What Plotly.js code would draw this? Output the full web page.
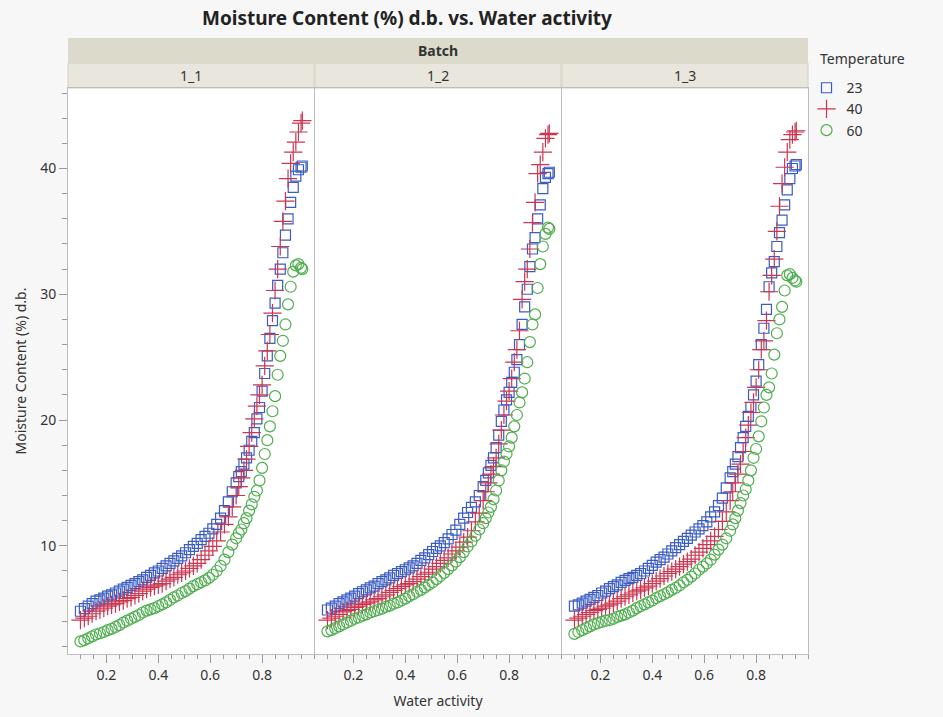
<!DOCTYPE html>
<html>
<head>
<meta charset="utf-8">
<script src="https://cdn.plot.ly/plotly-3.0.1.min.js"></script>
<style>html,body{margin:0;padding:0;background:#f7f7f7;}#chart{width:943px;height:717px;}</style>
</head>
<body>
<div id="chart"></div>
<script>
// Water activity grid (shared by all series)
const aw = [0.10,0.115,0.13,0.145,0.16,0.175,0.19,0.205,0.22,0.235,0.25,0.265,0.28,0.295,0.31,0.325,0.34,0.355,0.37,0.385,0.40,0.415,0.43,0.445,0.46,0.475,0.49,0.505,0.52,0.535,0.55,0.565,0.58,0.595,0.61,0.625,0.64,0.655,0.67,0.685,0.70,0.71,0.72,0.73,0.74,0.75,0.76,0.77,0.78,0.79,0.80,0.81,0.82,0.83,0.84,0.85,0.86,0.87,0.88,0.89,0.90,0.91,0.92,0.93,0.94,0.95,0.955];

const batches = ["1_1","1_2","1_3"];
const temps = ["23","40","60"];

// Batch 1_1
const mc_1_1_t23 = [4.8,5.0,5.2,5.4,5.6,5.7,5.85,6.0,6.1,6.25,6.4,6.55,6.7,6.85,7.0,7.15,7.3,7.5,7.65,7.85,8.0,8.2,8.4,8.6,8.8,9.0,9.2,9.45,9.7,9.95,10.2,10.5,10.75,11.0,11.35,11.7,12.2,12.8,13.5,14.3,15.0,15.5,15.9,16.5,17.0,17.6,18.3,19.0,20.1,21.0,22.3,23.7,25.1,26.5,27.9,29.3,30.7,32.0,33.3,34.7,36.0,37.3,38.5,39.4,39.9,40.1,40.2];
const mc_1_1_t40 = [4.1,4.25,4.4,4.6,4.8,4.9,5.05,5.2,5.3,5.4,5.55,5.65,5.8,5.9,6.05,6.2,6.4,6.55,6.7,6.8,6.9,7.0,7.2,7.35,7.5,7.7,7.85,8.0,8.2,8.4,8.6,8.9,9.25,9.6,9.95,10.4,11.1,11.7,12.3,13.1,14.0,14.7,15.4,16.0,16.9,17.9,19.0,20.1,21.1,22.0,22.8,24.3,25.5,26.8,28.5,30.3,32.0,33.8,35.8,37.4,39.2,40.4,41.3,42.1,42.9,43.6,43.8];
const mc_1_1_t60 = [2.4,2.5,2.65,2.8,2.95,3.05,3.15,3.3,3.4,3.55,3.7,3.9,4.05,4.2,4.35,4.5,4.7,4.85,4.95,5.05,5.2,5.35,5.5,5.7,5.9,6.05,6.25,6.4,6.6,6.8,6.95,7.1,7.25,7.45,7.7,8.0,8.4,8.9,9.5,10.1,10.6,11.0,11.3,11.8,12.2,12.8,13.3,13.9,14.4,15.2,16.2,17.3,18.4,19.5,20.7,21.9,23.6,25.1,26.3,27.6,29.2,30.6,31.8,32.3,32.4,32.1,32.0];

// Batch 1_2
const mc_1_2_t23 = [4.9,5.05,5.2,5.4,5.55,5.7,5.85,6.0,6.2,6.35,6.5,6.65,6.8,7.0,7.15,7.3,7.45,7.65,7.8,7.95,8.1,8.25,8.4,8.6,8.85,9.05,9.3,9.55,9.8,10.0,10.25,10.55,10.9,11.25,11.7,12.2,12.65,13.05,13.5,14.0,14.7,15.2,15.8,16.4,17.0,17.8,18.8,19.9,20.8,21.6,22.2,23.0,23.8,24.8,26.0,27.6,29.0,30.4,32.2,33.6,34.5,36.0,37.1,38.4,39.3,39.6,39.7];
const mc_1_2_t40 = [4.1,4.25,4.4,4.55,4.75,4.85,4.95,5.1,5.2,5.35,5.45,5.55,5.7,5.8,5.95,6.1,6.3,6.45,6.6,6.75,6.9,7.0,7.15,7.35,7.55,7.75,7.9,8.15,8.35,8.6,8.85,9.05,9.35,9.6,9.9,10.3,10.7,11.2,11.9,12.6,13.6,14.3,15.0,15.7,16.3,17.0,18.1,19.2,20.4,21.5,22.3,23.3,24.6,25.6,27.1,29.6,31.0,32.0,33.6,35.7,37.3,39.6,40.3,41.3,42.4,42.7,42.8];
const mc_1_2_t60 = [3.2,3.3,3.45,3.6,3.75,3.9,4.05,4.2,4.3,4.45,4.55,4.7,4.8,4.9,5.0,5.15,5.25,5.4,5.5,5.65,5.8,6.0,6.15,6.35,6.5,6.7,6.9,7.1,7.35,7.6,7.85,8.15,8.45,8.75,9.1,9.5,9.95,10.35,10.8,11.3,11.8,12.2,12.65,13.1,13.7,14.4,15.2,16.0,16.7,17.3,17.9,18.6,19.5,20.4,21.4,22.2,23.3,24.6,26.2,27.6,28.4,30.5,32.4,33.8,34.8,35.3,35.2];

// Batch 1_3
const mc_1_3_t23 = [5.2,5.3,5.45,5.6,5.75,5.9,6.05,6.25,6.4,6.6,6.75,6.9,7.1,7.25,7.4,7.5,7.65,7.8,8.0,8.2,8.45,8.7,8.9,9.1,9.35,9.6,9.85,10.1,10.35,10.6,10.85,11.1,11.35,11.6,11.9,12.3,12.7,13.2,13.8,14.6,15.4,15.9,16.5,17.1,17.8,18.6,19.5,20.3,21.0,22.0,23.1,24.4,26.0,27.3,28.8,30.6,31.7,32.6,33.8,34.9,35.9,37.1,38.3,39.2,40.0,40.2,40.3];
const mc_1_3_t40 = [4.1,4.25,4.4,4.55,4.7,4.85,4.95,5.05,5.2,5.3,5.45,5.6,5.8,5.95,6.1,6.25,6.4,6.5,6.65,6.8,7.0,7.2,7.4,7.6,7.8,7.95,8.15,8.35,8.55,8.75,8.95,9.25,9.5,9.8,10.1,10.4,10.75,11.3,11.95,12.7,13.6,14.3,15.0,15.7,16.5,17.5,18.6,19.6,20.6,21.4,22.6,24.0,25.6,26.3,27.9,30.2,31.5,32.8,35.0,37.0,38.8,40.1,41.3,42.3,42.7,42.9,43.0];
const mc_1_3_t60 = [3.0,3.15,3.3,3.45,3.6,3.75,3.85,3.95,4.05,4.1,4.2,4.35,4.45,4.55,4.7,4.85,5.05,5.2,5.35,5.5,5.65,5.85,6.0,6.15,6.3,6.5,6.65,6.85,7.1,7.3,7.55,7.8,8.1,8.35,8.6,8.9,9.3,9.7,10.1,10.6,11.2,11.7,12.2,12.8,13.4,14.0,14.5,15.2,16.0,17.0,17.7,18.7,19.9,21.0,22.0,22.6,23.7,25.2,26.9,28.0,29.0,30.3,31.5,31.6,31.3,31.1,31.0];

const xTickVals = [0.2,0.4,0.6,0.8];
const xTickText = ["0.2","0.4","0.6","0.8"];
const yTickVals = [10,20,30,40];
const yTickText = ["10","20","30","40"];

const data = {
  "1_1": {"23": mc_1_1_t23, "40": mc_1_1_t40, "60": mc_1_1_t60},
  "1_2": {"23": mc_1_2_t23, "40": mc_1_2_t40, "60": mc_1_2_t60},
  "1_3": {"23": mc_1_3_t23, "40": mc_1_3_t40, "60": mc_1_3_t60}
};

const style = {
  "23": {symbol: "square-open", size: 10, color: "#3a5cc4", lw: 1.2},
  "40": {symbol: "cross-thin-open", size: 13, color: "#cc3550", lw: 1.2},
  "60": {symbol: "circle-open", size: 11, color: "#4fae4f", lw: 1.2}
};

const traces = [];
batches.forEach((b, i) => {
  const sfx = i === 0 ? "" : String(i + 1);
  temps.forEach(t => {
    const s = style[t];
    traces.push({
      type: "scatter", mode: "markers",
      x: aw, y: data[b][t],
      xaxis: "x" + sfx, yaxis: "y" + sfx,
      name: t, legendgroup: t, showlegend: i === 0,
      marker: {symbol: s.symbol, size: s.size, color: s.color, line: {width: s.lw, color: s.color}},
      hoverinfo: "x+y"
    });
  });
});

const W = 740;
const doms = [[0, 246/W], [247/W, 493/W], [494/W, 1]];
const fontFam = "Noto Sans, Open Sans, sans-serif";
const lineCol = "#bdbdbd";
const xRange = [0.052, 1.0];
const yRange = [1.4, 46.4];

const layout = {
  width: 943, height: 717,
  paper_bgcolor: "#f7f7f7", plot_bgcolor: "#ffffff",
  margin: {l: 68, r: 135, t: 88, b: 63},
  font: {family: fontFam, size: 14, color: "#333"},
  showlegend: true,
  legend: {
    x: 0.998, y: 1.028, xanchor: "left", yanchor: "top",
    bgcolor: "rgba(0,0,0,0)",
    font: {size: 14, color: "#333"},
    itemwidth: 30, tracegroupgap: 0
  },
  shapes: [],
  annotations: [{xref: "paper", yref: "paper", x: (818 - 68) / W, y: 1 + (88 - 58) / 566, text: "Temperature",
    showarrow: false, font: {size: 14, color: "#333"}, xanchor: "left", yanchor: "middle"}]
};

doms.forEach((d, i) => {
  const sfx = i === 0 ? "" : String(i + 1);
  layout["xaxis" + sfx] = {
    domain: d, range: xRange, anchor: "y" + sfx,
    showgrid: false, zeroline: false,
    showline: true, mirror: true, linecolor: lineCol, linewidth: 1,
    tickmode: "array", tickvals: xTickVals, ticktext: xTickText,
    ticks: "outside", ticklen: 8, tickcolor: "#9a9a9a", tickwidth: 1,
    minor: {dtick: 0.05, tick0: 0, ticks: "outside", ticklen: 4, tickcolor: "#9a9a9a", showgrid: false},
    tickfont: {size: 14, color: "#333"},
    title: i === 1 ? {text: "Water activity", font: {size: 14, color: "#333"}, standoff: 13} : {text: ""}
  };
  layout["yaxis" + sfx] = {
    domain: [0, 1], range: yRange, anchor: "x" + sfx,
    showgrid: false, zeroline: false,
    showline: true, mirror: true, linecolor: lineCol, linewidth: 1,
    tickmode: "array", tickvals: yTickVals, ticktext: yTickText,
    ticks: i === 0 ? "outside" : "", ticklen: 8, tickcolor: "#9a9a9a",
    showticklabels: i === 0,
    minor: i === 0 ? {dtick: 2, tick0: 0, ticks: "outside", ticklen: 5, tickcolor: "#9a9a9a", showgrid: false} : {ticks: "", showgrid: false},
    tickfont: {size: 14, color: "#333"},
    title: i === 0 ? {text: "Moisture Content (%) d.b.", font: {size: 14, color: "#333"}, standoff: 10} : {text: ""}
  };
  // sub strip
  layout.shapes.push({type: "rect", xref: "paper", yref: "paper", x0: d[0], x1: d[1], y0: 1.0, y1: 1.0442,
    fillcolor: "#e9e7dd", line: {color: "#d2d0c4", width: 1}, layer: "below"});
  layout.annotations.push({xref: "paper", yref: "paper", x: (d[0] + d[1]) / 2, y: 1.022, text: batches[i],
    showarrow: false, font: {size: 14, color: "#333"}, xanchor: "center", yanchor: "middle"});
});

layout.shapes.push({type: "rect", xref: "paper", yref: "paper", x0: 0, x1: 1, y0: 1.0442, y1: 1.0883,
  fillcolor: "#dcdacb", line: {width: 0}, layer: "below"});
layout.annotations.push({xref: "paper", yref: "paper", x: 0.5, y: 1.066, text: "<b>Batch</b>",
  showarrow: false, font: {size: 14, color: "#333"}, xanchor: "center", yanchor: "middle"});

layout.title = {
  text: "<b>Moisture Content (%) d.b. vs. Water activity</b>",
  font: {size: 19, color: "#222", family: fontFam},
  x: 407 / 943, xanchor: "center", xref: "container", y: 1 - 18 / 717, yanchor: "middle", yref: "container"
};

Plotly.newPlot("chart", traces, layout, {displayModeBar: false, staticPlot: true});
</script>
</body>
</html>
